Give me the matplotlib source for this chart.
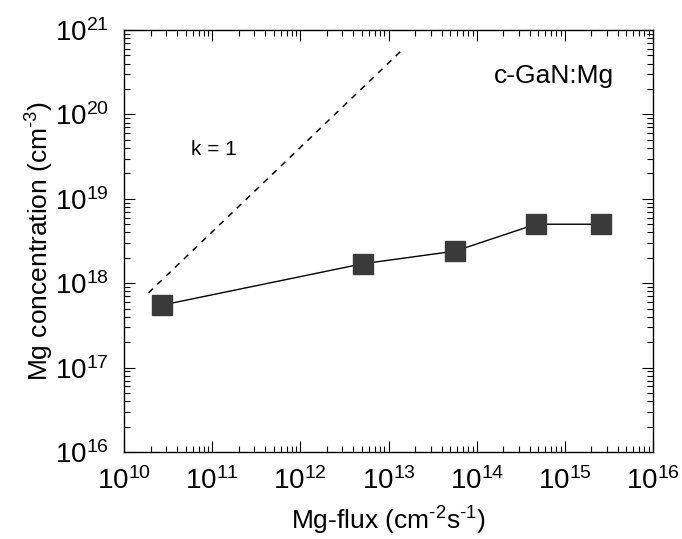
import matplotlib
matplotlib.use("Agg")
import matplotlib.pyplot as plt
from matplotlib.ticker import LogLocator, NullFormatter

# data
mg_flux = [2.7e10, 5.1e12, 5.7e13, 4.7e14, 2.6e15]
mg_conc = [5.5e17, 1.7e18, 2.4e18, 5.0e18, 5.0e18]

# k = 1 guide line
k1_flux = [1.9e10, 1.5e13]
k1_conc = [7.7e17, 6.1e20]

plt.rcParams['font.family'] = ['Liberation Sans', 'DejaVu Sans']
plt.rcParams['mathtext.fontset'] = 'custom'
plt.rcParams['mathtext.rm'] = 'Liberation Sans'
plt.rcParams['mathtext.it'] = 'Liberation Sans'

fig = plt.figure(figsize=(6.82, 5.39), dpi=100)
ax = fig.add_axes([0.1818, 0.1614, 0.7757, 0.7829])

ax.plot(k1_flux, k1_conc, color='black', linestyle=(0, (4, 4)), linewidth=1.1)
ax.plot(mg_flux, mg_conc, color='black', linewidth=1.0, marker='s',
        markersize=14, markerfacecolor='#3a3a3a', markeredgecolor='#3a3a3a')

ax.set_xscale('log')
ax.set_yscale('log')
ax.set_xlim(1e10, 1e16)
ax.set_ylim(1e16, 1e21)

ax.xaxis.set_major_locator(LogLocator(base=10, numticks=10))
ax.yaxis.set_major_locator(LogLocator(base=10, numticks=10))
ax.xaxis.set_minor_locator(LogLocator(base=10, subs=range(2, 10), numticks=20))
ax.yaxis.set_minor_locator(LogLocator(base=10, subs=range(2, 10), numticks=20))
ax.xaxis.set_minor_formatter(NullFormatter())
ax.yaxis.set_minor_formatter(NullFormatter())

ax.tick_params(which='both', direction='in', top=True, right=True,
               labelsize=20, width=0.8)
ax.tick_params(which='major', length=8, pad=11)
ax.tick_params(which='minor', length=4)
for sp in ax.spines.values():
    sp.set_linewidth(1.0)

ax.set_xlabel(r'Mg-flux (cm$^{\text{-}2}$s$^{\text{-}1}$)', fontsize=19)
ax.set_ylabel(r'Mg concentration (cm$^{\text{-}3}$)', fontsize=19)
ax.xaxis.set_label_coords(0.5, -0.125)
ax.yaxis.set_label_coords(-0.128, 0.5)

ax.text(0.17, 0.716, 'k = 1', transform=ax.transAxes, fontsize=15,
        ha='center', va='center')
ax.text(0.812, 0.89, 'c-GaN:Mg', transform=ax.transAxes, fontsize=19,
        ha='center', va='center')

fig.savefig('out.png', dpi=100)
